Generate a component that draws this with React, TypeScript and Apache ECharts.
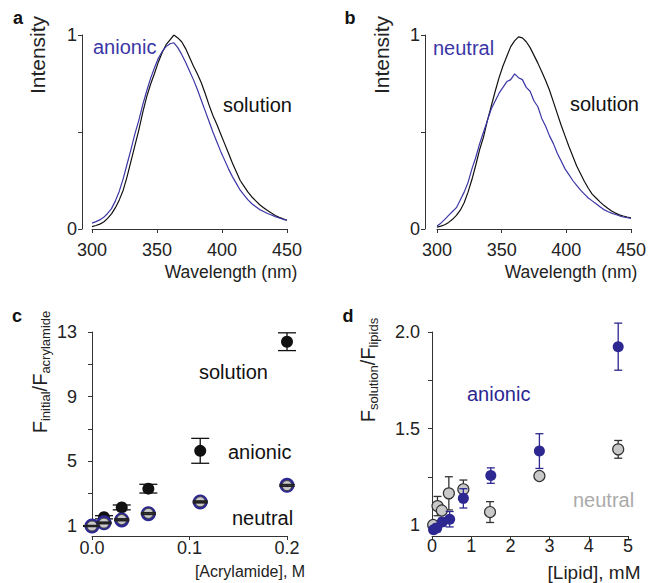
import React, { useEffect, useRef } from "react";
import * as echarts from "echarts";

// ---------- DATA ----------
const WAVELENGTHS = [
  300, 303, 306, 309, 312, 315, 318, 321, 324, 327,
  330, 333, 336, 339, 342, 345, 348, 351, 354, 357,
  360, 363, 366, 369, 372, 375, 378, 381, 384, 387,
  390, 393, 396, 399, 402, 405, 408, 411, 414, 417,
  420, 423, 426, 429, 432, 435, 438, 441, 444, 447,
  450,
];

const A_SOLUTION = [
  0.012, 0.018, 0.025, 0.036, 0.055, 0.078, 0.11, 0.15, 0.2, 0.27,
  0.35, 0.43, 0.51, 0.6, 0.68, 0.745, 0.8, 0.86, 0.91, 0.95,
  0.975, 1.0, 0.985, 0.965, 0.93, 0.885, 0.84, 0.8, 0.755, 0.7,
  0.64, 0.585, 0.54, 0.49, 0.44, 0.39, 0.34, 0.295, 0.25, 0.22,
  0.19, 0.165, 0.145, 0.125, 0.11, 0.095, 0.082, 0.07, 0.06, 0.052,
  0.045,
];

const A_ANIONIC = [
  0.03, 0.038, 0.047, 0.06, 0.08, 0.105, 0.145, 0.195, 0.26, 0.335,
  0.41, 0.49, 0.56, 0.64, 0.71, 0.775, 0.83, 0.88, 0.915, 0.94,
  0.955, 0.96, 0.935, 0.9, 0.86, 0.815, 0.77, 0.72, 0.665, 0.61,
  0.555, 0.5, 0.45, 0.4, 0.355, 0.31, 0.27, 0.235, 0.2, 0.175,
  0.15, 0.13, 0.115, 0.1, 0.09, 0.08, 0.072, 0.064, 0.057, 0.05,
  0.045,
];

const B_SOLUTION = [
  0.01, 0.015, 0.022, 0.034, 0.05, 0.07, 0.097, 0.135, 0.19, 0.255,
  0.33, 0.41, 0.475, 0.56, 0.635, 0.71, 0.78, 0.84, 0.89, 0.94,
  0.97, 0.99, 0.985, 0.965, 0.935, 0.895, 0.855, 0.81, 0.765, 0.715,
  0.655, 0.595, 0.535, 0.48, 0.425, 0.375, 0.325, 0.285, 0.245, 0.21,
  0.18, 0.16, 0.14, 0.122, 0.107, 0.093, 0.082, 0.073, 0.067, 0.062,
  0.058,
];

const B_NEUTRAL = [
  0.015, 0.03, 0.05, 0.07, 0.09, 0.11, 0.15, 0.19, 0.24, 0.31,
  0.37, 0.44, 0.5, 0.56, 0.62, 0.66, 0.7, 0.73, 0.76, 0.77,
  0.8, 0.78, 0.77, 0.73, 0.71, 0.66, 0.63, 0.57, 0.53, 0.48,
  0.44, 0.39, 0.35, 0.31, 0.28, 0.25, 0.225, 0.2, 0.18, 0.16,
  0.145, 0.13, 0.115, 0.1, 0.09, 0.082, 0.075, 0.068, 0.062, 0.058,
  0.055,
];

// panel c: Stern-Volmer (acrylamide)
const C_ACRYLAMIDE = [0, 0.0123, 0.0305, 0.0578, 0.111, 0.2];
const C_SOLUTION = [1.0, 1.54, 2.15, 3.31, 5.65, 12.4];
const C_SOLUTION_ERR = [0.02, 0.1, 0.15, 0.27, 0.77, 0.55];
const C_ANIONIC = [1.0, 1.2, 1.37, 1.76, 2.48, 3.52];
const C_ANIONIC_ERR = [0.03, 0.04, 0.05, 0.05, 0.05, 0.05];
const C_NEUTRAL = [1.0, 1.18, 1.4, 1.78, 2.5, 3.5];
const C_NEUTRAL_ERR = [0.03, 0.04, 0.05, 0.05, 0.05, 0.05];

// panel d: lipid titration
const D_NEUTRAL_LIPID = [0.03, 0.14, 0.25, 0.43, 0.8, 1.48, 2.74, 4.75];
const D_NEUTRAL = [1.0, 1.098, 1.075, 1.164, 1.185, 1.067, 1.254, 1.392];
const D_NEUTRAL_ERR = [0.01, 0.05, 0.02, 0.086, 0.048, 0.054, 0.01, 0.046];
const D_ANIONIC_LIPID = [0.04, 0.12, 0.26, 0.45, 0.8, 1.5, 2.74, 4.75];
const D_ANIONIC = [0.975, 0.985, 1.015, 1.03, 1.138, 1.256, 1.383, 1.924];
const D_ANIONIC_ERR = [0.01, 0.02, 0.02, 0.04, 0.05, 0.04, 0.09, 0.122];

// ---------- STYLE ----------
const FONT = "'Liberation Sans', Arial, Helvetica, sans-serif";
const BLUE = "#3b36a6";
const DARK_BLUE = "#2c2791";
const GRAY_FILL = "#c9c9c9";
const AXIS_COLOR = "#333";

const zip = (xs: number[], ys: number[]) => xs.map((x, i) => [x, ys[i]]);
const zip3 = (xs: number[], ys: number[], es: number[]) => xs.map((x, i) => [x, ys[i], es[i]]);

function errorSeries(idx: number, data: number[][], color: string, capW: number, z: number) {
  return {
    type: "custom",
    xAxisIndex: idx,
    yAxisIndex: idx,
    clip: false,
    z,
    silent: true,
    data,
    encode: { x: 0, y: 1 },
    renderItem: (_p: any, api: any) => {
      const x = api.value(0);
      const y = api.value(1);
      const e = api.value(2);
      const hi = api.coord([x, y + e]);
      const lo = api.coord([x, y - e]);
      const hw = capW / 2;
      const style = { stroke: color, lineWidth: 1.3, fill: "none" };
      return {
        type: "group",
        children: [
          { type: "line", shape: { x1: hi[0], y1: hi[1], x2: lo[0], y2: lo[1] }, style },
          { type: "line", shape: { x1: hi[0] - hw, y1: hi[1], x2: hi[0] + hw, y2: hi[1] }, style },
          { type: "line", shape: { x1: lo[0] - hw, y1: lo[1], x2: lo[0] + hw, y2: lo[1] }, style },
        ],
      };
    },
  };
}

const axisCommon = {
  axisLine: { show: true, lineStyle: { color: AXIS_COLOR, width: 1 } },
  axisTick: { show: true, length: 4, inside: false, lineStyle: { color: AXIS_COLOR } },
  splitLine: { show: false },
  axisLabel: { color: "#222", fontSize: 18, fontFamily: FONT, margin: 5 },
};

function text(x: number, y: number, t: string, color: string, size = 20, align = "center", bold = false) {
  return {
    type: "text",
    x,
    y,
    silent: true,
    style: {
      text: t,
      fill: color,
      fontSize: size,
      fontFamily: FONT,
      fontWeight: bold ? "bold" : "normal",
      align,
      verticalAlign: "middle",
    },
  };
}

function subName(x: number, y: number, sub1: string, sub2: string) {
  return {
    type: "text",
    x,
    y,
    rotation: Math.PI / 2,
    silent: true,
    style: {
      text: `{m|F}{s|${sub1}}{m|/F}{s|${sub2}}`,
      rich: {
        m: { fontSize: 20, fontFamily: FONT, fill: "#222", lineHeight: 24, verticalAlign: "middle" },
        s: { fontSize: 13, fontFamily: FONT, fill: "#222", lineHeight: 13, verticalAlign: "bottom" },
      },
      align: "center",
      verticalAlign: "middle",
    },
  };
}

export default function App() {
  const ref = useRef<HTMLDivElement>(null);

  useEffect(() => {
    document.body.style.margin = "0";
    if (!ref.current) return;
    const chart = echarts.init(ref.current, undefined, { renderer: "svg" });

    const spectraX = (idx: number, off: number) => ({
      ...axisCommon,
      type: "value",
      gridIndex: idx,
      min: 300,
      max: 450,
      interval: 50,
      offset: off,
      axisLabel: { ...axisCommon.axisLabel, margin: 3 },
    });
    const spectraY = (idx: number, off: number) => ({
      ...axisCommon,
      type: "value",
      gridIndex: idx,
      min: 0,
      max: 1,
      interval: 0.5,
      offset: off,
      axisLabel: {
        ...axisCommon.axisLabel,
        formatter: (v: number) => (v === 0.5 ? "" : String(v)),
      },
    });

    const option: any = {
      animation: false,
      backgroundColor: "#ffffff",
      grid: [
        { left: 92, top: 35, width: 195, height: 194 },
        { left: 437, top: 35, width: 194, height: 194 },
        { left: 92, top: 332, width: 195, height: 194 },
        { left: 432, top: 332, width: 196, height: 193 },
      ],
      xAxis: [
        spectraX(0, 9),
        spectraX(1, 9),
        {
          ...axisCommon,
          type: "value",
          gridIndex: 2,
          min: 0,
          max: 0.2,
          interval: 0.1,
          offset: 10,
          axisLabel: { ...axisCommon.axisLabel, margin: 3, formatter: (v: number) => v.toFixed(1) },
        },
        {
          ...axisCommon,
          type: "value",
          gridIndex: 3,
          min: 0,
          max: 5,
          interval: 1,
          offset: 11,
          axisLabel: { ...axisCommon.axisLabel, margin: 1 },
        },
      ],
      yAxis: [
        spectraY(0, 10),
        spectraY(1, 12),
        {
          ...axisCommon,
          type: "value",
          gridIndex: 2,
          min: 1,
          max: 13,
          interval: 2,
          offset: 10,
          axisLabel: {
            ...axisCommon.axisLabel,
            formatter: (v: number) => ((v - 1) % 4 === 0 ? String(v) : ""),
          },
        },
        {
          ...axisCommon,
          type: "value",
          gridIndex: 3,
          min: 1,
          max: 2,
          interval: 0.25,
          offset: 7,
          axisLabel: {
            ...axisCommon.axisLabel,
            formatter: (v: number) => (v === 1 ? "1" : v === 1.5 ? "1.5" : v === 2 ? "2.0" : ""),
          },
        },
      ],
      series: [
        // panel a
        {
          type: "line", xAxisIndex: 0, yAxisIndex: 0, data: zip(WAVELENGTHS, A_SOLUTION),
          symbol: "none", lineStyle: { color: "#111", width: 1.2 }, z: 2,
        },
        {
          type: "line", xAxisIndex: 0, yAxisIndex: 0, data: zip(WAVELENGTHS, A_ANIONIC),
          symbol: "none", lineStyle: { color: BLUE, width: 1.2 }, z: 3,
        },
        // panel b
        {
          type: "line", xAxisIndex: 1, yAxisIndex: 1, data: zip(WAVELENGTHS, B_SOLUTION),
          symbol: "none", lineStyle: { color: "#111", width: 1.2 }, z: 2,
        },
        {
          type: "line", xAxisIndex: 1, yAxisIndex: 1, data: zip(WAVELENGTHS, B_NEUTRAL),
          symbol: "none", lineStyle: { color: BLUE, width: 1.2 }, z: 3,
        },
        // panel c
        {
          type: "scatter", xAxisIndex: 2, yAxisIndex: 2, clip: false, z: 3,
          data: zip(C_ACRYLAMIDE, C_SOLUTION), symbolSize: 12,
          itemStyle: { color: "#111", opacity: 1 },
        },
        errorSeries(2, zip3(C_ACRYLAMIDE, C_SOLUTION, C_SOLUTION_ERR), "#111", 18, 4),
        {
          type: "scatter", xAxisIndex: 2, yAxisIndex: 2, clip: false, z: 5,
          data: zip(C_ACRYLAMIDE, C_ANIONIC), symbolSize: 15,
          itemStyle: { color: DARK_BLUE, opacity: 1 },
        },
        {
          type: "scatter", xAxisIndex: 2, yAxisIndex: 2, clip: false, z: 6,
          data: zip(C_ACRYLAMIDE, C_NEUTRAL), symbolSize: 10,
          itemStyle: { color: GRAY_FILL, borderColor: "#444", borderWidth: 1, opacity: 1 },
        },
        errorSeries(2, zip3(C_ACRYLAMIDE, C_ANIONIC, C_ANIONIC_ERR), "#222", 15, 7),
        errorSeries(2, zip3(C_ACRYLAMIDE, C_NEUTRAL, C_NEUTRAL_ERR), "#222", 15, 7),
        // panel d
        errorSeries(3, zip3(D_NEUTRAL_LIPID, D_NEUTRAL, D_NEUTRAL_ERR), "#333", 8, 3),
        {
          type: "scatter", xAxisIndex: 3, yAxisIndex: 3, clip: false, z: 4,
          data: zip(D_NEUTRAL_LIPID, D_NEUTRAL), symbolSize: 11,
          itemStyle: { color: GRAY_FILL, borderColor: "#333", borderWidth: 1.2, opacity: 1 },
        },
        errorSeries(3, zip3(D_ANIONIC_LIPID, D_ANIONIC, D_ANIONIC_ERR), DARK_BLUE, 8, 5),
        {
          type: "scatter", xAxisIndex: 3, yAxisIndex: 3, clip: false, z: 6,
          data: zip(D_ANIONIC_LIPID, D_ANIONIC), symbolSize: 11,
          itemStyle: { color: DARK_BLUE, opacity: 1 },
        },
      ],
      graphic: [
        text(18, 18, "a", "#111", 18, "center", true),
        text(350, 18, "b", "#111", 18, "center", true),
        text(17, 316, "c", "#111", 18, "center", true),
        text(348, 316, "d", "#111", 18, "center", true),
        // panel a
        { ...text(37, 55, "Intensity", "#222", 21), rotation: Math.PI / 2 },
        text(93, 47, "anionic", BLUE, 20, "left"),
        text(223, 105, "solution", "#111", 20, "left"),
        text(231, 272, "Wavelength (nm)", "#222", 17.5),
        // panel b
        { ...text(381, 55, "Intensity", "#222", 21), rotation: Math.PI / 2 },
        text(433, 48, "neutral", BLUE, 20, "left"),
        text(570, 104, "solution", "#111", 20, "left"),
        text(571, 272, "Wavelength (nm)", "#222", 17.5),
        // panel c
        subName(40, 372, "initial", "acrylamide"),
        text(199, 372, "solution", "#111", 20, "left"),
        text(228, 452, "anionic", "#111", 20, "left"),
        text(232, 518, "neutral", "#111", 20, "left"),
        text(250, 571, "[Acrylamide], M", "#222", 16),
        // panel d
        subName(368, 370, "solution", "lipids"),
        text(467, 394, "anionic", DARK_BLUE, 20, "left"),
        text(573, 500, "neutral", "#aaaaaa", 20, "left"),
        text(594, 572, "[Lipid], mM", "#222", 19),
      ],
    };

    chart.setOption(option);
    return () => chart.dispose();
  }, []);

  return <div ref={ref} style={{ width: 650, height: 583 }} />;
}
